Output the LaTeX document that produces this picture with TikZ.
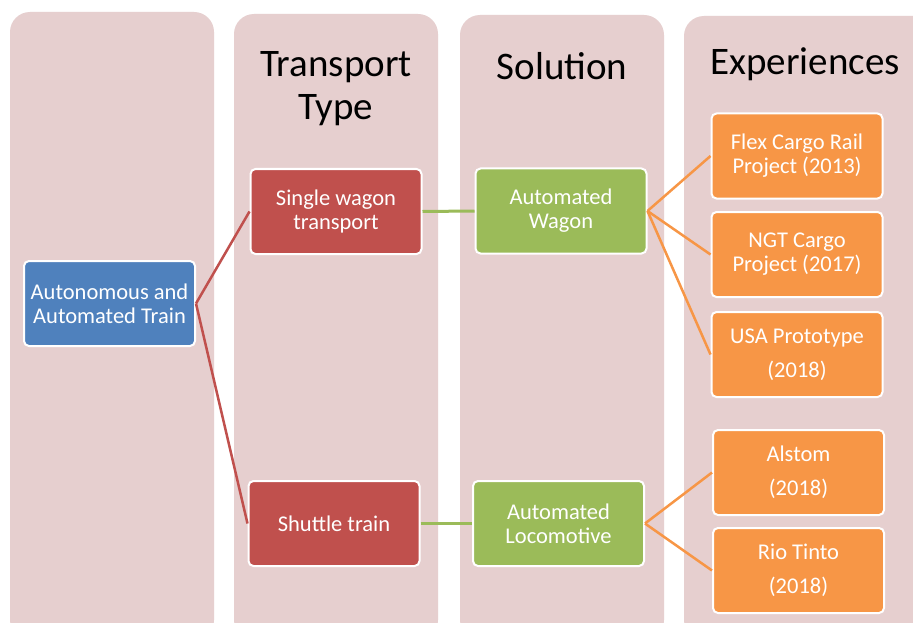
\documentclass[tikz,border=0pt]{standalone}
\usepackage{fontspec}
\setmainfont{Carlito}
\usepackage{xcolor}
\definecolor{colbg}{HTML}{E6CFCF}
\definecolor{trainblue}{HTML}{4F81BD}
\definecolor{typered}{HTML}{C0504D}
\definecolor{solgreen}{HTML}{9BBB59}
\definecolor{exporange}{HTML}{F79646}
\begin{document}
\begin{tikzpicture}[x=1pt,y=-1pt,
  column/.style={fill=colbg, rounded corners=20pt},
  title/.style={align=center, font=\fontsize{39}{43}\selectfont},
  box/.style={draw=white, line width=2pt, rounded corners=5pt, text=white, align=center,
    minimum width=171pt, minimum height=85pt, inner sep=2pt, font=\fontsize{22.5}{24}\selectfont},
  trainbox/.style={box, fill=trainblue},
  typebox/.style={box, fill=typered},
  solbox/.style={box, fill=solgreen},
  expbox/.style={box, fill=exporange},
  redline/.style={typered, line width=2.5pt},
  greenline/.style={solgreen, line width=3pt},
  orangeline/.style={exporange, line width=2.5pt}]
\useasboundingbox (0,0) rectangle (913,623);
\clip (0,0) rectangle (913,623);
\fill[white] (0,0) rectangle (913,623);
% background columns
\fill[column] (10,12) rectangle (214,640);
\fill[column] (234,14) rectangle (438,640);
\fill[column] (460,15) rectangle (664,640);
\fill[column] (684,16) rectangle (960,640);
% column titles
\node[title] (ttype) at (336,89) {Transport\\Type};
\node[title] (tsol) at (562,66) {Solution};
\node[title] (texp) at (805,64) {Experiences};
% boxes
\node[trainbox] (train) at (109.5,303.5) {Autonomous and\\Automated Train};
\node[typebox] (single) at (336,211.5) {Single wagon\\transport};
\node[typebox] (shuttle) at (334,523.5) {Shuttle train};
\node[solbox] (awagon) at (561,211) {Automated\\Wagon};
\node[solbox] (aloco) at (558.5,523.5) {Automated\\Locomotive};
\node[expbox] (flex) at (797,156) {Flex Cargo Rail\\Project (2013)};
\node[expbox] (ngt) at (797,254.5) {NGT Cargo\\Project (2017)};
\node[expbox] (usa) at (797,354.5) {USA Prototype\\[10pt](2018)};
\node[expbox] (alstom) at (798.5,472.5) {Alstom\\[10pt](2018)};
\node[expbox] (rio) at (798.5,570.5) {Rio Tinto\\[10pt](2018)};
% connectors
\draw[redline] (train.east) -- (single.west);
\draw[redline] (train.east) -- (shuttle.west);
\draw[greenline] (single.east) -- (awagon.west);
\draw[greenline] (shuttle.east) -- (aloco.west);
\draw[orangeline] (awagon.east) -- (flex.west);
\draw[orangeline] (awagon.east) -- (ngt.west);
\draw[orangeline] (awagon.east) -- (usa.west);
\draw[orangeline] (aloco.east) -- (alstom.west);
\draw[orangeline] (aloco.east) -- (rio.west);
\end{tikzpicture}
\end{document}
